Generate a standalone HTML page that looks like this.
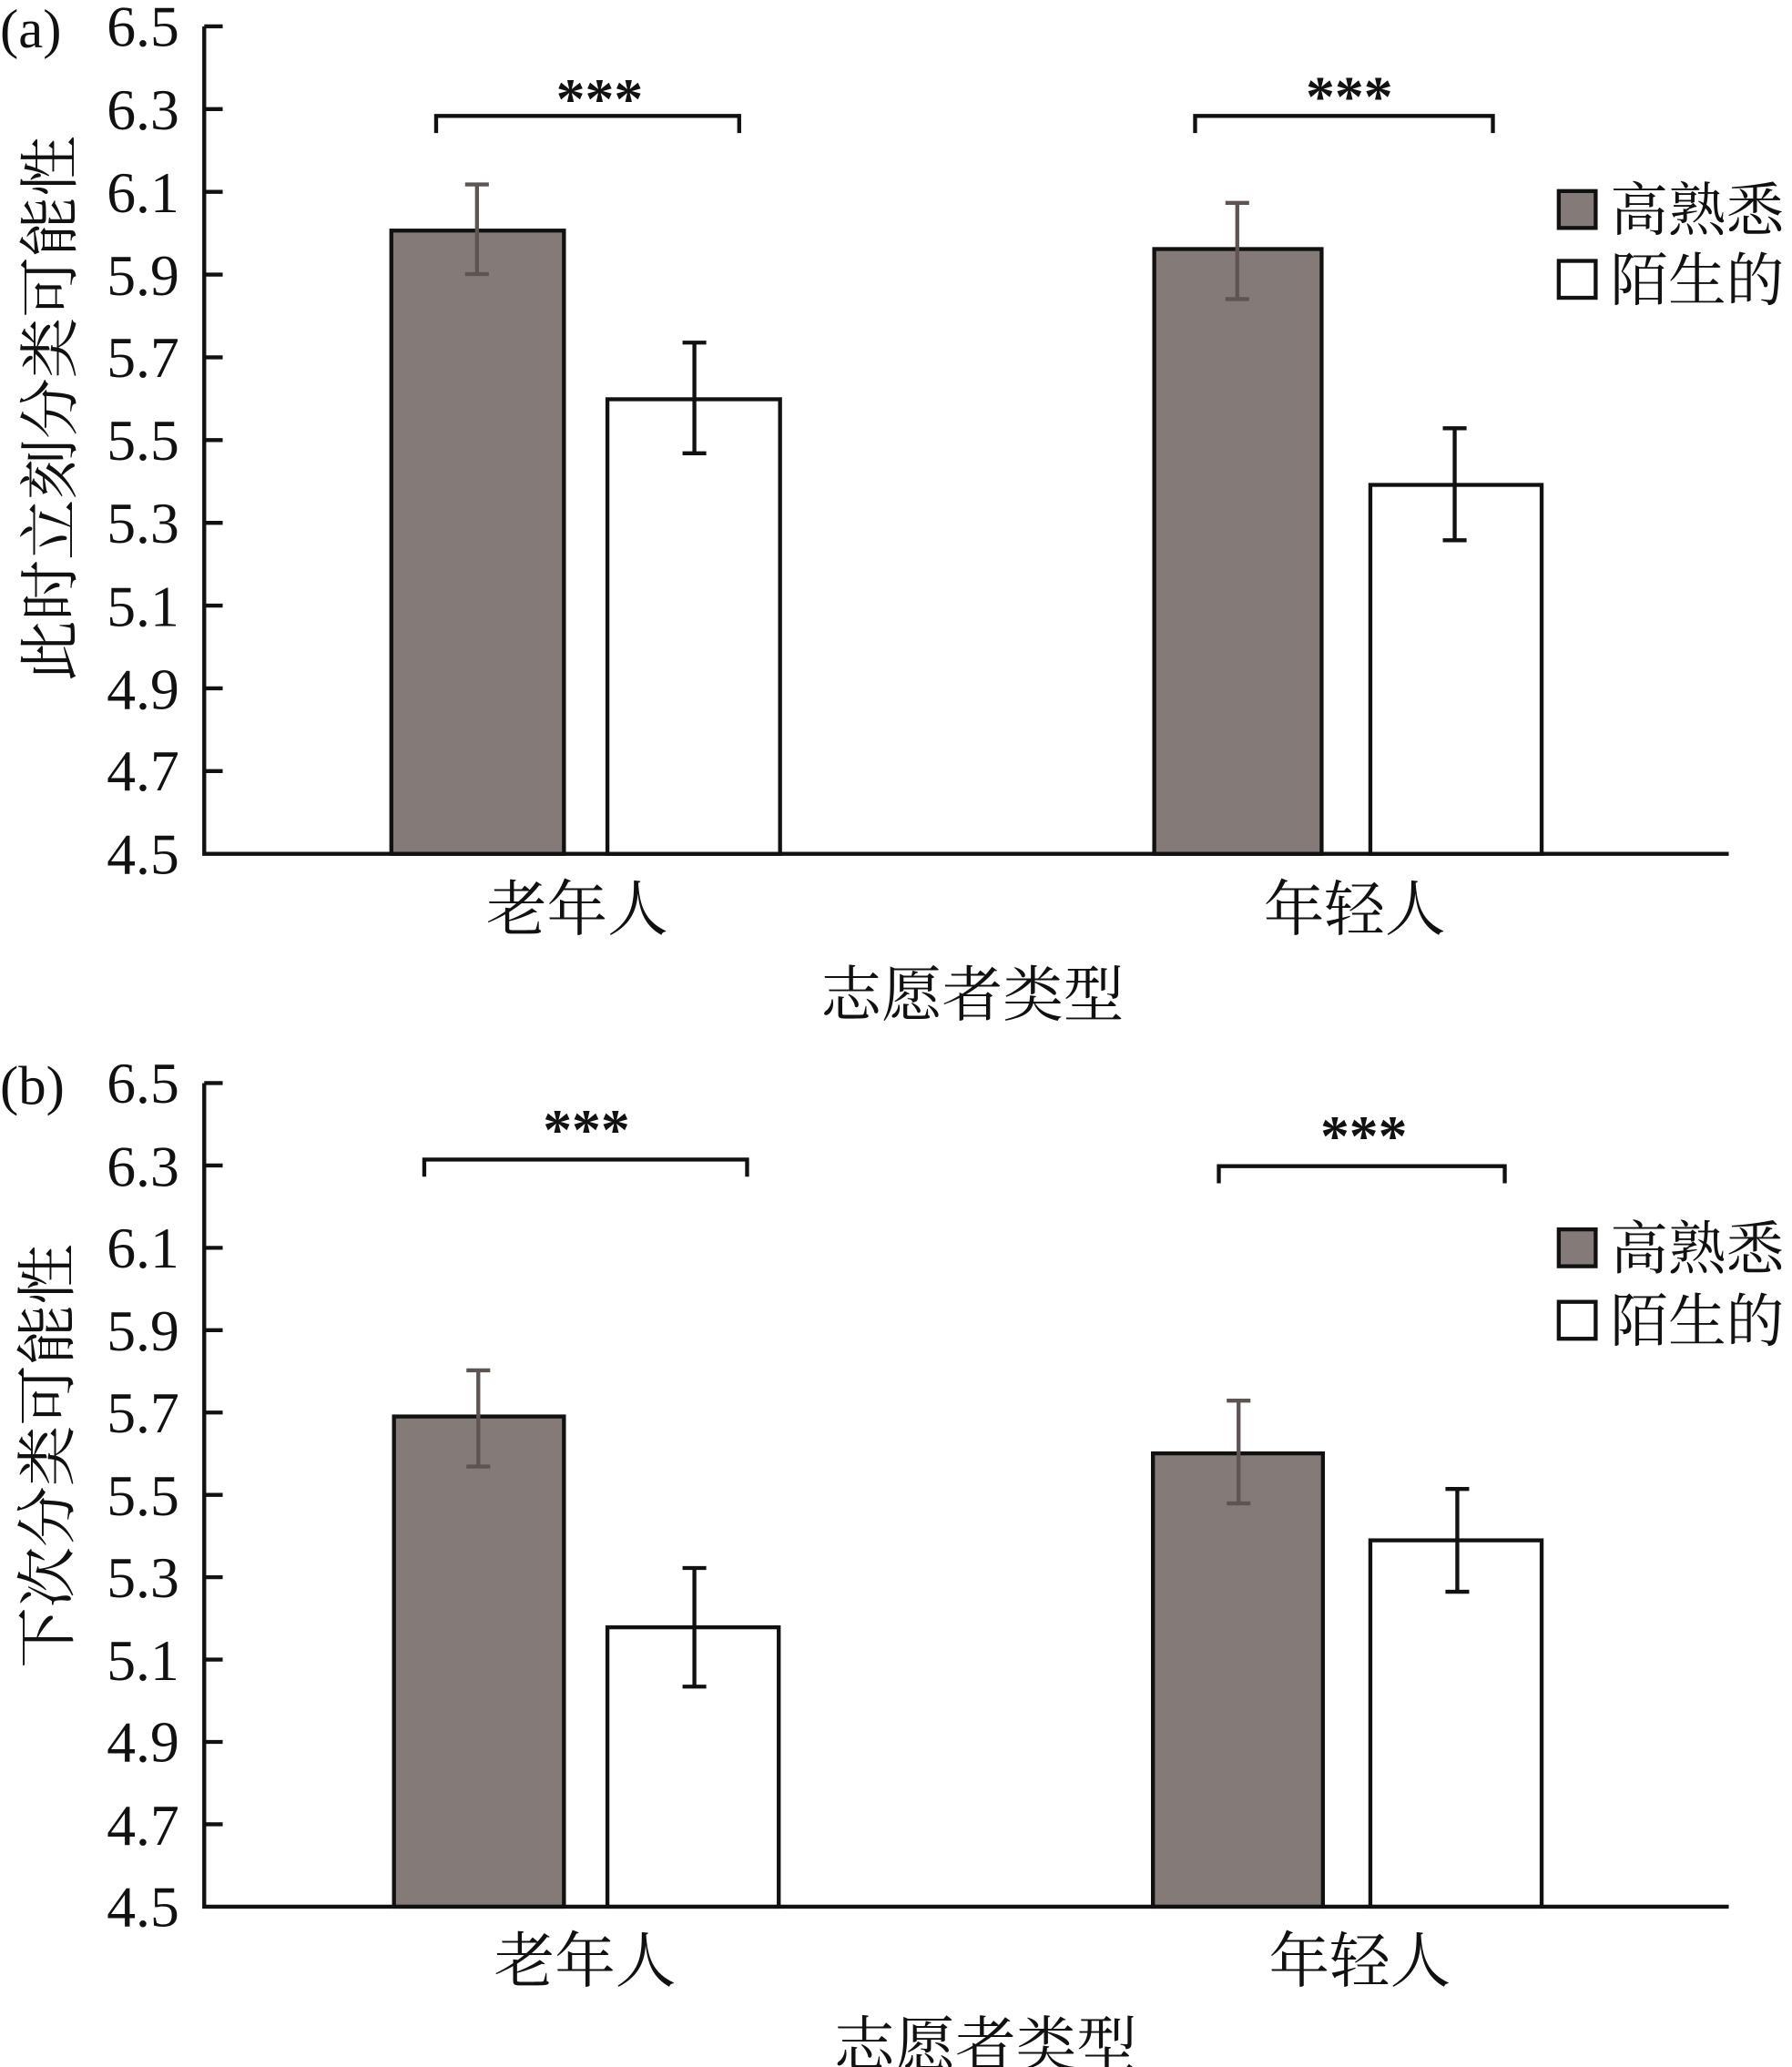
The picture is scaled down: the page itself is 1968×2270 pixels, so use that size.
<!DOCTYPE html>
<html><head><meta charset="utf-8"><style>html,body{margin:0;padding:0;background:#fff}svg{display:block}</style></head>
<body>
<svg width="1968" height="2270" viewBox="0 0 1360 1568.7" xmlns="http://www.w3.org/2000/svg" font-family="'Liberation Serif','Noto Serif CJK SC',serif" fill="#111">
<g stroke="#111" stroke-width="3" fill="none">
<path d="M155,20 V648 H1312"/>
<path d="M155,20 h14 M155,82.8 h14 M155,145.6 h14 M155,208.4 h14 M155,271.2 h14 M155,334 h14 M155,396.8 h14 M155,459.6 h14 M155,522.4 h14 M155,585.2 h14"/>
<path d="M155,822 V1447 H1312"/>
<path d="M155,822 h14 M155,884.5 h14 M155,947 h14 M155,1009.5 h14 M155,1072 h14 M155,1134.5 h14 M155,1197 h14 M155,1259.5 h14 M155,1322 h14 M155,1384.5 h14"/>
</g>
<g stroke="#111" stroke-width="3">
<rect x="297" y="175" width="131" height="473" fill="#847a77"/>
<rect x="461" y="303" width="131" height="345" fill="#fff"/>
<rect x="876" y="189" width="127" height="459" fill="#847a77"/>
<rect x="1040" y="368" width="130" height="280" fill="#fff"/>
<rect x="299" y="1075" width="129" height="372" fill="#847a77"/>
<rect x="461" y="1235" width="130" height="212" fill="#fff"/>
<rect x="875" y="1103" width="129" height="344" fill="#847a77"/>
<rect x="1040" y="1169" width="130" height="278" fill="#fff"/>
</g>
<g stroke="#5e5553" stroke-width="3" fill="none">
<path d="M362,140 V208 M353,140 h18 M353,208 h18"/>
<path d="M939,154 V227 M930,154 h18 M930,227 h18"/>
<path d="M363,1040 V1113 M354,1040 h18 M354,1113 h18"/>
<path d="M940,1063 V1141 M931,1063 h18 M931,1141 h18"/>
</g>
<g stroke="#111" stroke-width="3" fill="none">
<path d="M527,260 V344 M518,260 h18 M518,344 h18"/>
<path d="M1104,325 V410 M1095,325 h18 M1095,410 h18"/>
<path d="M527,1190 V1280 M518,1190 h18 M518,1280 h18"/>
<path d="M1106,1130 V1208 M1097,1130 h18 M1097,1208 h18"/>
<path d="M331,101 V88 H561 V101"/>
<path d="M907,101 V88 H1133 V101"/>
<path d="M322,893 V880 H567 V893"/>
<path d="M925,898 V885 H1142 V898"/>
<rect x="1183" y="145" width="28" height="28" fill="#847a77"/>
<rect x="1183" y="198" width="28" height="28" fill="#fff"/>
<rect x="1183" y="933" width="28" height="28" fill="#847a77"/>
<rect x="1183" y="988" width="28" height="28" fill="#fff"/>
</g>
<g font-size="44" text-anchor="end">
<text x="136" y="35">6.5</text><text x="136" y="98">6.3</text><text x="136" y="161">6.1</text><text x="136" y="224">5.9</text><text x="136" y="286">5.7</text><text x="136" y="349">5.5</text><text x="136" y="412">5.3</text><text x="136" y="475">5.1</text><text x="136" y="538">4.9</text><text x="136" y="600">4.7</text><text x="136" y="663">4.5</text>
<text x="136" y="837">6.5</text><text x="136" y="900">6.3</text><text x="136" y="962">6.1</text><text x="136" y="1025">5.9</text><text x="136" y="1087">5.7</text><text x="136" y="1150">5.5</text><text x="136" y="1212">5.3</text><text x="136" y="1275">5.1</text><text x="136" y="1337">4.9</text><text x="136" y="1400">4.7</text><text x="136" y="1462">4.5</text>
</g>
<g font-size="42">
<text x="0" y="36">(a)</text><text x="0" y="838">(b)</text>
</g>
<g font-size="44" font-weight="bold" text-anchor="middle">
<text x="455" y="90">***</text><text x="1024" y="88">***</text>
<text x="445" y="872">***</text><text x="1035" y="877">***</text>
</g>
<g font-size="46" text-anchor="middle">
<text x="438" y="706">老年人</text><text x="1028" y="706">年轻人</text>
<text x="738" y="771">志愿者类型</text>
<text x="444" y="1504">老年人</text><text x="1032" y="1504">年轻人</text>
<text x="748" y="1568">志愿者类型</text>
<text transform="translate(54,310) rotate(-90)">此时立刻分类可能性</text>
<text transform="translate(52,1105) rotate(-90)">下次分类可能性</text>
</g>
<g font-size="44">
<text x="1222" y="175">高熟悉</text><text x="1222" y="228">陌生的</text>
<text x="1222" y="963">高熟悉</text><text x="1222" y="1018">陌生的</text>
</g>
</svg>
</body></html>
